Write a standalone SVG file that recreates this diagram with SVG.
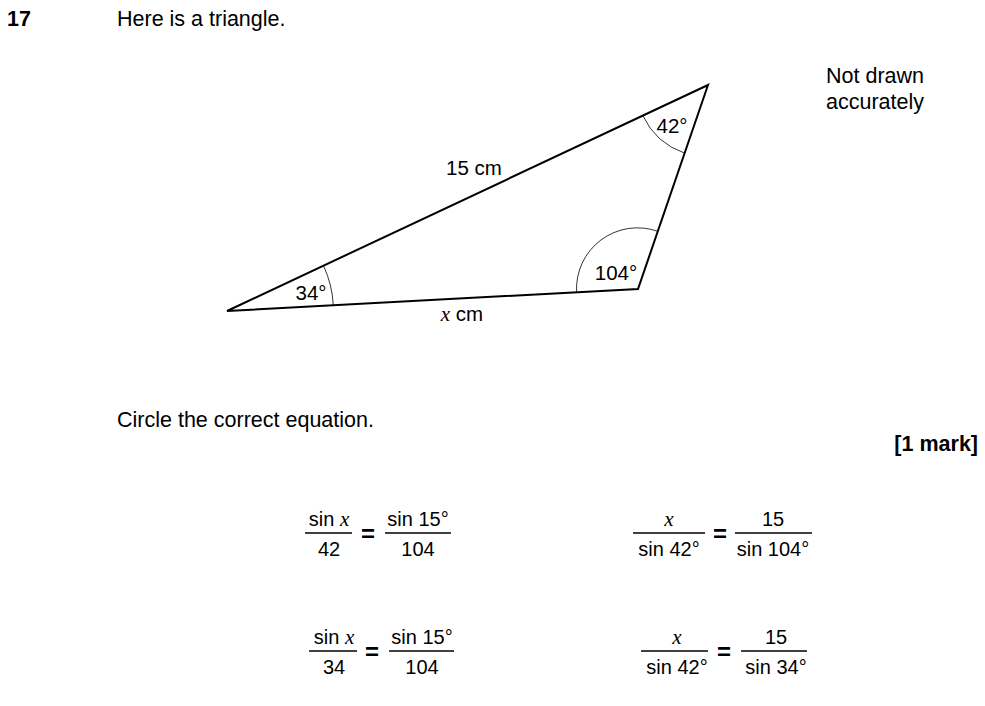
<svg xmlns="http://www.w3.org/2000/svg" width="985" height="706" viewBox="0 0 985 706">
<style>
text{font-family:"Liberation Sans",Arial,sans-serif;font-size:21.5px;fill:#000}
.b{font-weight:bold}
.lab{font-size:20.5px}
.eq{font-size:20px}
.q{font-size:24px;font-weight:bold}
.m{text-anchor:middle}
.x{font-family:"Liberation Serif","Times New Roman",serif;font-style:italic;font-size:21px}
.tri{fill:none;stroke:#000;stroke-width:2}
.arc{fill:none;stroke:#000;stroke-width:0.8}
.fr{stroke:#000;stroke-width:1.3}
</style>
<rect width="985" height="706" fill="#fff"/>
<text x="7" y="26" class="b">17</text>
<text x="117" y="26">Here is a triangle.</text>
<text x="826" y="83">Not drawn</text>
<text x="826" y="109">accurately</text>
<g id="triangle">
<polygon class="tri" points="227,311 708,85 638,289"/>
<path class="arc" d="M323.5,265.7 A106.5,106.5 0 0 1 333.3,305.5"/>
<path class="arc" d="M642.8,115.6 A72,72 0 0 0 684.6,153.1"/>
<path class="arc" d="M576.6,292.1 A61,61 0 0 1 657.8,231.3"/>
</g>
<g id="labels">
<text x="672" y="133" class="lab m">42°</text>
<text x="616" y="280" class="lab m">104°</text>
<text x="311" y="300" class="lab m">34°</text>
<text x="474" y="175" class="lab m">15 cm</text>
<text x="462" y="321" class="lab m"><tspan class="x">x</tspan> cm</text>
</g>
<text x="117" y="427">Circle the correct equation.</text>
<text x="978" y="451" class="b" text-anchor="end">[1 mark]</text>
<g id="eq1">
<text x="329" y="526" class="eq m">sin <tspan class="x">x</tspan></text>
<line class="fr" x1="305" y1="533" x2="352" y2="533"/>
<text x="329" y="556" class="eq m">42</text>
<text x="368" y="542" class="q m">=</text>
<text x="418" y="526" class="eq m">sin 15°</text>
<line class="fr" x1="385" y1="533" x2="451" y2="533"/>
<text x="418" y="556" class="eq m">104</text>
</g>
<g id="eq2">
<text x="669" y="526" class="m x">x</text>
<line class="fr" x1="633" y1="533" x2="705" y2="533"/>
<text x="669" y="556" class="eq m">sin 42°</text>
<text x="720" y="542" class="q m">=</text>
<text x="773" y="526" class="eq m">15</text>
<line class="fr" x1="735" y1="533" x2="812" y2="533"/>
<text x="773" y="556" class="eq m">sin 104°</text>
</g>
<g id="eq3">
<text x="334" y="644" class="eq m">sin <tspan class="x">x</tspan></text>
<line class="fr" x1="309" y1="651" x2="357" y2="651"/>
<text x="334" y="674" class="eq m">34</text>
<text x="372" y="660" class="q m">=</text>
<text x="422" y="644" class="eq m">sin 15°</text>
<line class="fr" x1="389" y1="651" x2="454" y2="651"/>
<text x="422" y="674" class="eq m">104</text>
</g>
<g id="eq4">
<text x="677" y="644" class="m x">x</text>
<line class="fr" x1="641" y1="651" x2="708" y2="651"/>
<text x="677" y="674" class="eq m">sin 42°</text>
<text x="724" y="660" class="q m">=</text>
<text x="776" y="644" class="eq m">15</text>
<line class="fr" x1="741" y1="651" x2="807" y2="651"/>
<text x="776" y="674" class="eq m">sin 34°</text>
</g>
</svg>
